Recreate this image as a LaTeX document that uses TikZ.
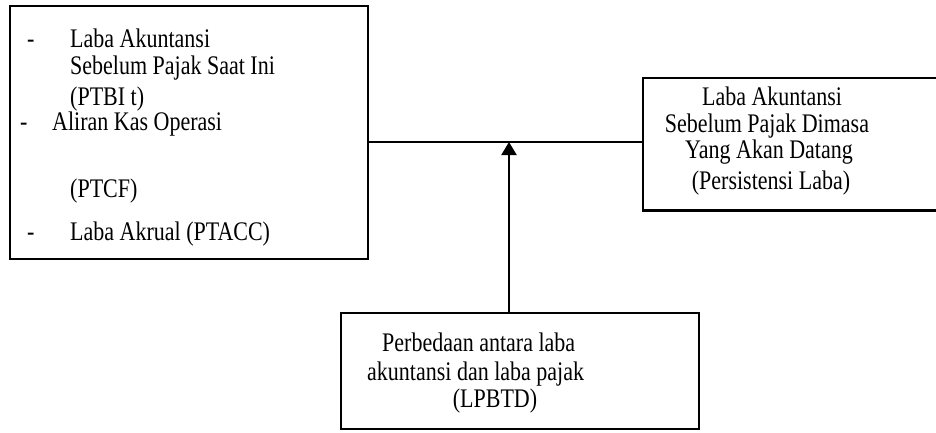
\documentclass[tikz,border=0pt]{standalone}
\usepackage{fontspec}
\usepackage{graphicx}
\setmainfont{Liberation Serif}
\usetikzlibrary{arrows.meta}
\newcommand{\tallt}[1]{\scalebox{1}[1.22]{#1}}
\begin{document}
\begin{tikzpicture}[x=1pt,y=-1pt,
  box/.style={draw,line width=1.5pt,inner sep=0pt},
  hidebox/.style={inner sep=0pt},
  txt/.style={inner sep=0pt,anchor=base west,font=\fontsize{22}{26}\selectfont},
  ctxt/.style={inner sep=0pt,anchor=base,font=\fontsize{22}{26}\selectfont}]
\useasboundingbox (0,0) rectangle (936,432);
% left box
\node[box,minimum width=358pt,minimum height=253pt] (L) at (189,132.5) {};
\node[txt] (d1) at (27,47) {\tallt{-}};
\node[txt] (l1) at (70,47) {\tallt{Laba Akuntansi}};
\node[txt] (l2) at (70,74) {\tallt{Sebelum Pajak Saat Ini}};
\node[txt] (l3) at (70,105) {\tallt{(PTBI t)}};
\node[txt] (d2) at (20,130) {\tallt{-}};
\node[txt] (l4) at (52,130) {\tallt{Aliran Kas Operasi}};
\node[txt] (l5) at (70,197) {\tallt{(PTCF)}};
\node[txt] (d3) at (27,240) {\tallt{-}};
\node[txt] (l6) at (70,240) {\tallt{Laba Akrual (PTACC)}};
% right box
\node[hidebox,minimum width=293pt,minimum height=132pt] (R) at (789.5,144) {};
\draw[line width=2.6pt,line join=miter] (R.north east) -- (R.north west) -- (R.south west) -- (R.south east);
\node[ctxt] (r1) at (772,105) {\tallt{Laba Akuntansi}};
\node[ctxt] (r2) at (767,132) {\tallt{Sebelum Pajak Dimasa}};
\node[ctxt] (r3) at (769,158) {\tallt{Yang Akan Datang}};
\node[ctxt] (r4) at (771,189) {\tallt{(Persistensi Laba)}};
% bottom box
\node[box,minimum width=358pt,minimum height=116pt] (B) at (520,371) {};
\node[txt] (b1) at (382,351) {\tallt{Perbedaan antara laba}};
\node[txt] (b2) at (367,380) {\tallt{akuntansi dan laba pajak}};
\node[ctxt] (b3) at (495,407) {\tallt{(LPBTD)}};
% connectors
\coordinate (J) at (509,142);
\draw[line width=1.5pt] (L.east |- J) -- (R.west |- J);
\draw[line width=2pt,-{Triangle[length=13pt,width=15pt]}] (J |- B.north) -- (J);
\end{tikzpicture}
\end{document}
